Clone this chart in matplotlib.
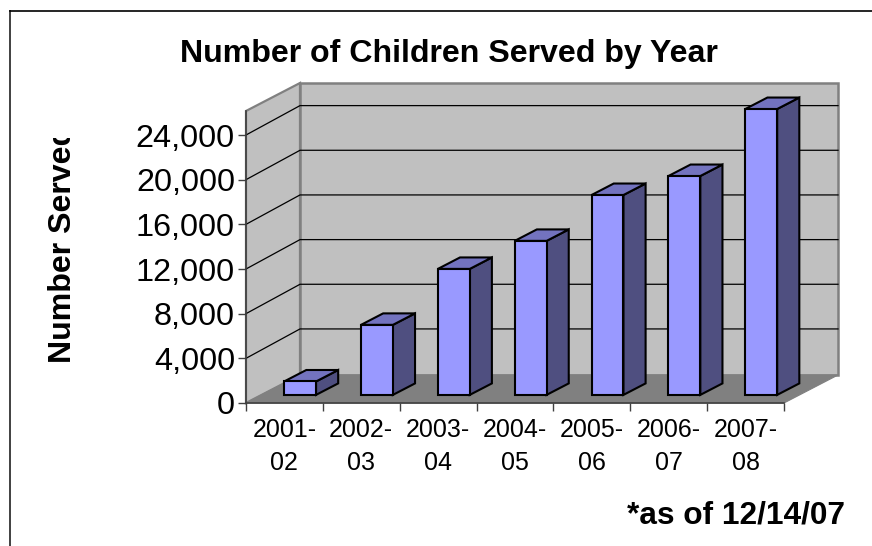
import matplotlib
matplotlib.use("Agg")
import matplotlib.pyplot as plt
from matplotlib.lines import Line2D
from matplotlib.transforms import Bbox

plt.rcParams['font.family'] = ['Liberation Sans', 'DejaVu Sans']

years = ["2001-\n02", "2002-\n03", "2003-\n04", "2004-\n05", "2005-\n06", "2006-\n07", "2007-\n08"]
served = [1200, 6270, 11280, 13790, 17900, 19600, 25600]
y_ticks = [0, 4000, 8000, 12000, 16000, 20000, 24000]

W, H = 872, 546
fig = plt.figure(figsize=(W / 100, H / 100), dpi=100, facecolor="white")

# front plane of the fake 3d box, in pixels
left, right, bottom, top = 246, 784, 403, 111
ax = fig.add_axes([left / W, 1 - bottom / H, (right - left) / W, (bottom - top) / H])
ax.set_xlim(0, len(years))
ax.set_ylim(0, 26150)
ax.patch.set_visible(False)

# depth of the box in data units
dx = 54 / ((right - left) / len(years))
dy = 28 / ((bottom - top) / 26150)
ymax = 26150
n = len(years)

# walls and floor
ax.fill([0, dx, dx, 0], [0, dy, ymax + dy, ymax], fc="#c0c0c0", ec="#808080", lw=1.6, clip_on=False, zorder=1)
ax.fill([dx, n + dx, n + dx, dx], [dy, dy, ymax + dy, ymax + dy], fc="#c0c0c0", ec="#808080", lw=1.8, clip_on=False, zorder=1)
ax.fill([0, dx, n + dx, n], [0, dy, dy, 0], fc="#808080", ec="#808080", lw=0.8, clip_on=False, zorder=1.5)

# gridlines run across the side wall and the back wall
grid_dy = dy * 1.05
for t in y_ticks[1:]:
    ax.plot([0, dx, n + dx], [t, t + grid_dy, t + grid_dy], color="black", lw=0.9, clip_on=False, zorder=2)

# bars
bar_w = 0.415
bar_start = 0.29
bar_depth = 0.41
for i, v in enumerate(served):
    x0 = i + 0.5 - bar_w / 2 + bar_start * dx
    x1 = x0 + bar_w
    y0 = bar_start * dy
    y1 = y0 + v
    ox = bar_depth * dx
    oy = bar_depth * dy
    style = dict(ec="black", lw=1.5, joinstyle="miter", clip_on=False, zorder=3 + i * 0.1)
    ax.fill([x1, x1 + ox, x1 + ox, x1], [y0, y0 + oy, y1 + oy, y1], fc="#4f4f80", **style)
    ax.fill([x0, x0 + ox, x1 + ox, x1], [y1, y1 + oy, y1 + oy, y1], fc="#7373bf", **style)
    ax.fill([x0, x1, x1, x0], [y0, y0, y1, y1], fc="#9999ff", **style)

for s in ["top", "right"]:
    ax.spines[s].set_visible(False)
for s in ["left", "bottom"]:
    ax.spines[s].set_color("#404040")
    ax.spines[s].set_linewidth(1.2)
    ax.spines[s].set_zorder(2.5)

ax.set_yticks(y_ticks)
ax.set_yticklabels([f"{t:,}" for t in y_ticks])
ax.set_xticks(range(n + 1))
ax.set_xticklabels([])
ax.set_xticks([i + 0.5 for i in range(n)], minor=True)
ax.set_xticklabels(years, minor=True, fontsize=18, linespacing=1.5, color="black")
ax.tick_params(axis="x", which="minor", length=0, pad=10.5)
ax.tick_params(axis="x", which="major", length=6, width=1, color="#404040")
ax.tick_params(axis="y", length=6, width=1, color="#404040", labelsize=23.3, pad=2)

fig.text(449 / W, 1 - 54 / H, "Number of Children Served by Year", fontsize=23.1,
         fontweight="bold", ha="center", va="center")
fig.text(845 / W, 1 - 515 / H, "*as of 12/14/07", fontsize=22.8,
         fontweight="bold", ha="right", va="center")

# the axis title is cut off by its box in the original
ylab = fig.text(63 / W, 1 - 363 / H, "Number Served", fontsize=23.1, fontweight="bold",
                rotation=90, ha="center", va="bottom")
ylab.set_clip_box(Bbox([[0, H - 364], [W, H - 138]]))
ylab.set_clip_on(True)

# outer frame, partly off the picture
fig.add_artist(Line2D([10 / W, 10 / W], [0, 1 - 11 / H], color="#404040", lw=1.4))
fig.add_artist(Line2D([10 / W, 1], [1 - 11 / H, 1 - 11 / H], color="black", lw=1.2))

fig.savefig("out.png", dpi=100)
